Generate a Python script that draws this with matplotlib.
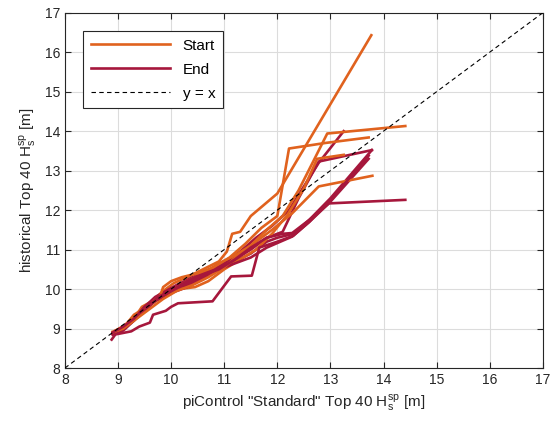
import matplotlib
matplotlib.use("Agg")
import matplotlib.pyplot as plt

plt.rcParams["font.family"] = ["Liberation Sans", "DejaVu Sans"]
plt.rcParams["mathtext.fontset"] = "custom"
plt.rcParams["mathtext.rm"] = "Liberation Sans"

START_COLOR = "#E0621E"
END_COLOR = "#A6173C"

TICKS = [8, 9, 10, 11, 12, 13, 14, 15, 16, 17]

# "Start" curves (piControl vs historical, top 40 quantiles)
start_x = [
    [8.9, 9.05, 9.25, 9.4, 9.45, 9.65, 9.85, 10.05, 10.3, 10.6, 10.9, 11.05, 11.15, 11.3, 11.5, 12.0, 13.77],
    [8.95, 9.1, 9.3, 9.5, 9.75, 10.0, 10.3, 10.6, 10.9, 11.2, 11.5, 11.8, 12.1, 12.4, 12.66, 12.94, 14.41],
    [8.9, 9.15, 9.3, 9.55, 9.8, 9.85, 10.0, 10.2, 10.5, 10.8, 11.1, 11.4, 11.7, 12.0, 12.22, 12.9, 13.72],
    [8.95, 9.2, 9.4, 9.6, 9.9, 10.15, 10.45, 10.7, 11.0, 11.3, 11.6, 11.9, 12.2, 12.5, 12.75, 13.25],
    [8.9, 9.1, 9.35, 9.6, 9.85, 10.1, 10.4, 10.7, 11.0, 11.3, 11.6, 11.9, 12.28, 12.78, 13.79],
]
start_y = [
    [8.92, 8.97, 9.2, 9.45, 9.55, 9.7, 9.95, 10.15, 10.3, 10.5, 10.7, 10.95, 11.4, 11.45, 11.85, 12.42, 16.43],
    [8.95, 9.05, 9.3, 9.5, 9.75, 9.95, 10.2, 10.4, 10.65, 10.85, 11.1, 11.5, 11.85, 12.5, 13.19, 13.94, 14.13],
    [8.9, 9.1, 9.35, 9.55, 9.85, 10.05, 10.2, 10.3, 10.4, 10.55, 10.8, 11.15, 11.55, 11.85, 13.56, 13.7, 13.84],
    [8.93, 9.15, 9.35, 9.6, 9.85, 10.0, 10.05, 10.2, 10.5, 10.75, 11.0, 11.4, 11.9, 12.55, 13.3, 13.4],
    [8.9, 9.0, 9.25, 9.5, 9.75, 9.95, 10.1, 10.3, 10.55, 10.9, 11.2, 11.5, 11.92, 12.6, 12.87],
]

# "End" curves
end_x = [
    [8.9, 9.1, 9.3, 9.5, 9.7, 9.9, 10.1, 10.4, 10.7, 11.0, 11.3, 11.6, 11.9, 12.22, 12.78, 13.25],
    [8.9, 9.15, 9.35, 9.55, 9.8, 10.05, 10.3, 10.6, 10.9, 11.2, 11.5, 11.8, 12.1, 12.4, 12.78, 13.78],
    [8.92, 9.1, 9.3, 9.55, 9.75, 10.0, 10.3, 10.6, 10.9, 11.2, 11.5, 11.8, 12.0, 12.3, 12.6, 13.0, 13.78],
    [8.9, 9.1, 9.3, 9.5, 9.7, 10.0, 10.3, 10.6, 10.9, 11.2, 11.5, 11.8, 12.28, 12.6, 12.97, 13.72],
    [8.88, 8.95, 9.25, 9.4, 9.5, 9.6, 9.66, 9.9, 10.0, 10.13, 10.78, 11.13, 11.52, 11.66, 12.0, 12.3, 12.6, 13.0, 13.72],
    [8.9, 9.1, 9.3, 9.5, 9.75, 10.0, 10.3, 10.6, 10.9, 11.2, 11.5, 11.8, 12.1, 12.28, 12.6, 12.97, 14.41],
]
end_y = [
    [8.85, 9.0, 9.2, 9.55, 9.8, 9.95, 10.1, 10.3, 10.45, 10.65, 10.95, 11.3, 11.6, 12.0, 13.2, 14.0],
    [8.88, 9.05, 9.3, 9.6, 9.8, 10.0, 10.2, 10.4, 10.6, 10.75, 11.0, 11.3, 11.45, 12.3, 13.23, 13.52],
    [8.9, 9.0, 9.25, 9.5, 9.8, 9.95, 10.1, 10.3, 10.55, 10.7, 10.9, 11.2, 11.3, 11.4, 11.75, 12.3, 13.52],
    [8.85, 8.95, 9.2, 9.45, 9.7, 9.9, 10.05, 10.25, 10.5, 10.65, 10.8, 11.05, 11.33, 11.7, 12.17, 13.3],
    [8.72, 8.85, 8.93, 9.05, 9.1, 9.15, 9.35, 9.45, 9.55, 9.64, 9.69, 10.32, 10.34, 11.05, 11.2, 11.35, 11.7, 12.25, 13.38],
    [8.9, 9.05, 9.25, 9.55, 9.75, 9.95, 10.15, 10.35, 10.5, 10.75, 11.05, 11.3, 11.4, 11.42, 11.75, 12.17, 12.26],
]

fig = plt.figure(figsize=(5.5, 4.24), dpi=100)
ax = fig.add_axes([0.118, 0.132, 0.869, 0.838])

for i in range(max(len(start_x), len(end_x))):
    if i < len(start_x):
        ax.plot(start_x[i], start_y[i], color=START_COLOR, linewidth=1.9,
                label="Start" if i == 0 else None, zorder=2)
    if i < len(end_x):
        ax.plot(end_x[i], end_y[i], color=END_COLOR, linewidth=1.9,
                label="End" if i == 0 else None, zorder=2)

ax.plot([TICKS[0], TICKS[-1]], [TICKS[0], TICKS[-1]], "k--", linewidth=0.8,
        dashes=(4, 3), label="y = x", zorder=3)

ax.set_xlim(8, 17)
ax.set_ylim(8, 17)
ax.set_xticks(TICKS)
ax.set_yticks(TICKS)
ax.grid(True, color="#dcdcdc", linewidth=0.8)
ax.set_axisbelow(True)
ax.tick_params(direction="in", top=True, right=True, labelsize=10,
               colors="#262626", length=4)
for s in ax.spines.values():
    s.set_color("#262626")
    s.set_linewidth(0.8)

ax.set_xlabel(r'piControl "Standard" Top 40 H$_\mathregular{s}^\mathregular{sp}$ [m]',
              fontsize=11, color="#262626", labelpad=4)
ax.set_ylabel(r'historical Top 40 H$_\mathregular{s}^\mathregular{sp}$ [m]',
              fontsize=11, color="#262626", labelpad=4)

leg = ax.legend(loc="upper left", fontsize=11, fancybox=False, edgecolor="#262626",
                framealpha=1, handlelength=5.2, labelspacing=0.65,
                borderpad=0.5, borderaxespad=1.2)
leg.get_frame().set_linewidth(0.8)

fig.savefig("out.png", dpi=100)
